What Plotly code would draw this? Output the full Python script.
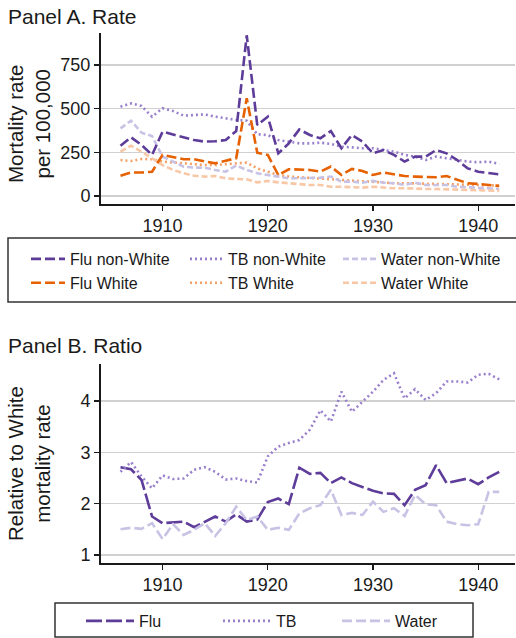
import plotly.graph_objects as go

years = list(range(1906, 1943))

# Panel A: mortality rate per 100,000
flu_nonwhite = [288, 336, 292, 235, 368, 353, 336, 320, 311, 313, 320, 372, 920, 406, 454, 244, 301, 381, 349, 330, 372, 273, 349, 311, 244, 263, 235, 197, 225, 225, 263, 244, 206, 158, 139, 130, 124]
flu_white = [116, 135, 134, 139, 235, 221, 210, 210, 197, 187, 202, 216, 559, 248, 235, 120, 153, 153, 149, 139, 168, 120, 155, 143, 120, 134, 124, 114, 111, 107, 107, 114, 92, 73, 69, 63, 57]
tb_nonwhite = [511, 530, 515, 454, 502, 486, 460, 464, 467, 454, 445, 435, 431, 353, 349, 320, 311, 301, 301, 305, 298, 282, 278, 273, 273, 263, 254, 235, 225, 206, 225, 216, 206, 197, 193, 197, 183]
tb_white = [206, 200, 212, 210, 197, 191, 187, 183, 177, 177, 181, 183, 191, 158, 139, 120, 111, 107, 105, 101, 95, 92, 86, 82, 82, 76, 73, 73, 73, 69, 69, 67, 67, 63, 63, 61, 59]
water_nonwhite = [387, 431, 362, 343, 225, 197, 168, 162, 162, 149, 139, 174, 149, 130, 120, 111, 101, 101, 101, 105, 111, 82, 82, 76, 86, 76, 73, 63, 76, 63, 63, 63, 53, 50, 44, 44, 40]
water_white = [254, 288, 254, 216, 177, 149, 130, 116, 111, 114, 101, 97, 95, 78, 86, 78, 73, 67, 63, 63, 53, 53, 50, 48, 53, 48, 44, 44, 40, 40, 40, 38, 34, 34, 31, 29, 29]

# Panel B: ratio non-White / White
flu_ratio = [2.71, 2.67, 2.46, 1.75, 1.62, 1.63, 1.65, 1.54, 1.64, 1.75, 1.65, 1.79, 1.65, 1.69, 2.03, 2.10, 1.99, 2.70, 2.58, 2.60, 2.40, 2.51, 2.40, 2.32, 2.25, 2.20, 2.19, 1.97, 2.27, 2.36, 2.75, 2.40, 2.44, 2.49, 2.38, 2.51, 2.62]
tb_ratio = [2.62, 2.81, 2.53, 2.30, 2.55, 2.48, 2.49, 2.66, 2.71, 2.62, 2.47, 2.49, 2.44, 2.41, 2.92, 3.11, 3.18, 3.24, 3.44, 3.82, 3.60, 4.18, 3.79, 3.99, 4.18, 4.41, 4.54, 4.05, 4.23, 4.02, 4.15, 4.38, 4.38, 4.36, 4.51, 4.53, 4.42]
water_ratio = [1.50, 1.53, 1.51, 1.62, 1.31, 1.60, 1.39, 1.49, 1.62, 1.37, 1.62, 1.94, 1.68, 1.75, 1.49, 1.53, 1.49, 1.81, 1.91, 1.97, 2.27, 1.78, 1.82, 1.78, 2.04, 1.84, 1.91, 1.76, 2.17, 1.99, 1.97, 1.65, 1.60, 1.58, 1.60, 2.23, 2.23]

x_ticks = [1910, 1920, 1930, 1940]
ya_ticks = [0, 250, 500, 750]
yb_ticks = [1, 2, 3, 4]

W, H = 516, 638
FONT = "Liberation Sans, Arial, Helvetica, sans-serif"
TXT = "#1a1a1a"

C_FLU_NW = "#5e3c99"
C_FLU_W = "#e66101"
C_TB_NW = "#9a80cc"
C_TB_W = "#f5a066"
C_WAT_NW = "#c8c2e4"
C_WAT_W = "#f7c7a6"

def px(x):
    return x / W

def py(y):
    return (H - y) / H

fig = go.Figure()

def add(y, name, color, dash, legend, xa, ya, width=2.6):
    fig.add_trace(go.Scatter(
        x=years, y=y, name=name, mode="lines",
        line=dict(color=color, dash=dash, width=width),
        legend=legend, xaxis=xa, yaxis=ya, hoverinfo="skip"))

# Panel A
add(tb_nonwhite, "TB non-White", C_TB_NW, "2px,3px", "legend2", "x", "y")
add(tb_white, "TB White", C_TB_W, "2px,3px", "legend2", "x", "y")
add(water_nonwhite, "Water non-White", C_WAT_NW, "6px,3px", "legend3", "x", "y")
add(water_white, "Water White", C_WAT_W, "6px,3px", "legend3", "x", "y")
add(flu_nonwhite, "Flu non-White", C_FLU_NW, "10px,4px", "legend", "x", "y")
add(flu_white, "Flu White", C_FLU_W, "10px,4px", "legend", "x", "y")

# Panel B
add(flu_ratio, "Flu", C_FLU_NW, "16px,4px", "legend4", "x2", "y2")
add(tb_ratio, "TB", C_TB_NW, "2px,3px", "legend5", "x2", "y2")
add(water_ratio, "Water", C_WAT_NW, "10px,4px", "legend6", "x2", "y2")

axis_common = dict(
    showline=True, linecolor="#1a1a1a", linewidth=1.5,
    ticks="outside", ticklen=5, tickwidth=1.3, tickcolor="#1a1a1a",
    tickfont=dict(size=18, color=TXT, family=FONT),
    zeroline=False, automargin=False,
)

xdom = [px(100.5), px(515)]
fig.update_layout(
    width=W, height=H,
    margin=dict(l=0, r=0, t=0, b=0, autoexpand=False),
    paper_bgcolor="white", plot_bgcolor="white",
    font=dict(family=FONT, color=TXT),
    xaxis=dict(domain=xdom, anchor="y", range=[1904.1, 1943.5], tickvals=x_ticks,
               showgrid=False, **axis_common),
    yaxis=dict(domain=[py(204), py(33)], anchor="x", range=[-46, 933], tickvals=ya_ticks,
               showgrid=True, gridcolor="#d0d0d0", gridwidth=1.4, **axis_common),
    xaxis2=dict(domain=xdom, anchor="y2", range=[1904.1, 1943.5], tickvals=x_ticks,
                showgrid=False, **axis_common),
    yaxis2=dict(domain=[py(563.3), py(364)], anchor="x2", range=[0.838, 4.72], tickvals=yb_ticks,
                showgrid=True, gridcolor="#d0d0d0", gridwidth=1.4, **axis_common),
    showlegend=True,
)

leg_font = dict(size=16, color=TXT, family=FONT)

def leg(x, y, iw):
    return dict(x=px(x), y=py(y), xanchor="left", yanchor="top", orientation="v",
                bgcolor="rgba(0,0,0,0)", borderwidth=0, font=leg_font,
                itemwidth=iw, traceorder="normal", tracegroupgap=0)

fig.update_layout(
    legend=leg(26, 242, 34),
    legend2=leg(185, 242, 33),
    legend3=leg(338, 242, 33),
    legend4=leg(81, 604, 48),
    legend5=leg(218, 604, 48),
    legend6=leg(337, 604, 48),
)

# legend boxes
fig.add_shape(type="rect", xref="paper", yref="paper", x0=px(8), x1=px(520), y0=py(302), y1=py(238),
              line=dict(color="#333333", width=1.5), fillcolor="rgba(0,0,0,0)")
fig.add_shape(type="rect", xref="paper", yref="paper", x0=px(55), x1=px(473), y0=py(637), y1=py(603),
              line=dict(color="#333333", width=1.5), fillcolor="rgba(0,0,0,0)")

# titles
fig.add_annotation(text="Panel A. Rate", xref="paper", yref="paper", x=px(6), y=py(16),
                   xanchor="left", yanchor="middle", showarrow=False,
                   font=dict(size=21, color=TXT, family=FONT))
fig.add_annotation(text="Panel B. Ratio", xref="paper", yref="paper", x=px(6), y=py(345),
                   xanchor="left", yanchor="middle", showarrow=False,
                   font=dict(size=21, color=TXT, family=FONT))
fig.add_annotation(text="Mortality rate<br>per 100,000", xref="paper", yref="paper", x=px(29), y=py(124),
                   xanchor="center", yanchor="middle", showarrow=False, textangle=-90,
                   font=dict(size=20.5, color=TXT, family=FONT))
fig.add_annotation(text="Relative to White<br>mortality rate", xref="paper", yref="paper", x=px(29), y=py(464),
                   xanchor="center", yanchor="middle", showarrow=False, textangle=-90,
                   font=dict(size=20.5, color=TXT, family=FONT))

fig.write_html("out.html", config={"displayModeBar": False, "staticPlot": True},
               post_script="document.body.style.margin='0px';document.body.style.padding='0px';")
